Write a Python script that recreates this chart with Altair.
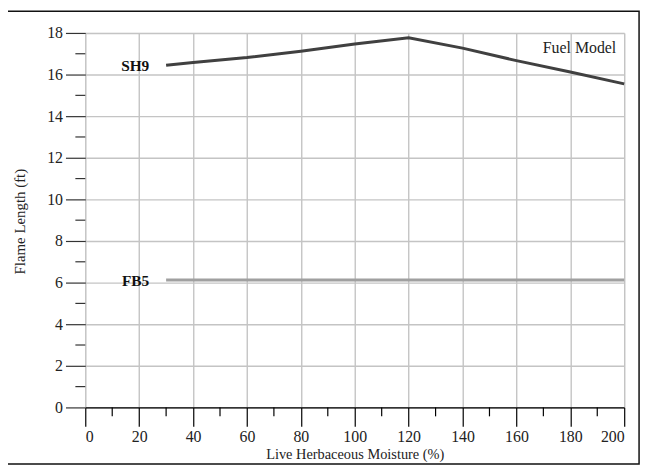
import altair as alt
import pandas as pd

# data
moisture = [30, 40, 60, 80, 100, 120, 140, 160, 180, 200]
sh9 = [16.45, 16.58, 16.82, 17.12, 17.47, 17.77, 17.27, 16.67, 16.12, 15.55]
fb5 = [6.12] * len(moisture)
models = ["SH9", "FB5"]
colors = ["#404040", "#a0a0a0"]
x_major = list(range(0, 201, 20))
x_minor = list(range(10, 200, 20))
y_major = list(range(0, 19, 2))
y_minor = list(range(1, 18, 2))

rows = []
for m, series in zip(models, [sh9, fb5]):
    for xv, yv in zip(moisture, series):
        rows.append({"model": m, "x": xv, "y": yv})
df = pd.DataFrame(rows)
lab = df.groupby("model", as_index=False).first()

FONT = "Liberation Serif"
W, H = 544, 378

xs = alt.Scale(domain=[0, 200], nice=False, zero=False)
ys = alt.Scale(domain=[0, 18], nice=False, zero=False)

lines = alt.Chart(df).mark_line(strokeWidth=3, clip=False).encode(
    x=alt.X("x:Q", scale=xs, axis=alt.Axis(
        values=x_major, tickSize=19, tickColor="#000", tickWidth=1.2,
        domainColor="#000", domainWidth=1.2, labelPadding=2,
        labelFont=FONT, labelFontSize=16, labelColor="#222",
        title="Live Herbaceous Moisture (%)", titleFont=FONT, titleFontSize=14.5,
        titleFontWeight="normal", titleColor="#222",
        titleX=272, titleY=48, titleBaseline="middle",
        grid=True, gridColor="#c4c4c4", gridWidth=1.4)),
    y=alt.Y("y:Q", scale=ys, axis=alt.Axis(
        values=y_major, tickSize=20, tickColor="#333", tickWidth=1.2,
        domain=False, labelPadding=3,
        labelFont=FONT, labelFontSize=16, labelColor="#222",
        title="Flame Length (ft)", titleFont=FONT, titleFontSize=15,
        titleFontWeight="normal", titleColor="#222",
        titleX=-66, titleY=190, titleAngle=270, titleAlign="center",
        titleBaseline="middle",
        grid=True, gridColor="#c4c4c4", gridWidth=1.4)),
    color=alt.Color("model:N", scale=alt.Scale(domain=models, range=colors), legend=None),
)

labels = alt.Chart(lab).mark_text(
    align="right", baseline="middle", dx=-17, dy=1, font=FONT, fontSize=15.5,
    fontWeight="bold", color="#111").encode(
    x=alt.X("x:Q", scale=xs), y=alt.Y("y:Q", scale=ys), text="model:N")

yminor = alt.Chart(pd.DataFrame({"v": y_minor})).mark_rule(color="#333", strokeWidth=1.2, clip=False).encode(
    y=alt.Y("v:Q", scale=ys), x=alt.value(-10), x2=alt.value(0))
xminor = alt.Chart(pd.DataFrame({"v": x_minor})).mark_rule(color="#000", strokeWidth=1.2, clip=False).encode(
    x=alt.X("v:Q", scale=xs), y=alt.value(H), y2=alt.value(H + 9))

legend_title = alt.Chart(pd.DataFrame({"t": ["Fuel Model"]})).mark_text(
    align="right", baseline="middle", font=FONT, fontSize=16, color="#222").encode(
    x=alt.value(536), y=alt.value(15), text="t:N")

frame = alt.Chart(pd.DataFrame({"a": [0]})).mark_rect(
    fillOpacity=0, stroke="#111", strokeWidth=1.5, clip=False).encode(
    x=alt.value(-79), x2=alt.value(559), y=alt.value(-22), y2=alt.value(435))

chart = alt.layer(lines, yminor, xminor, labels, legend_title, frame).properties(
    width=W, height=H,
    padding={"left": 78, "top": 23, "right": 22, "bottom": 62},
    autosize=alt.AutoSizeParams(type="none"),
).configure_view(stroke="#444", strokeWidth=1.5).configure(background="white")

chart.save("out.html", embed_options={"renderer": "svg", "actions": False})
